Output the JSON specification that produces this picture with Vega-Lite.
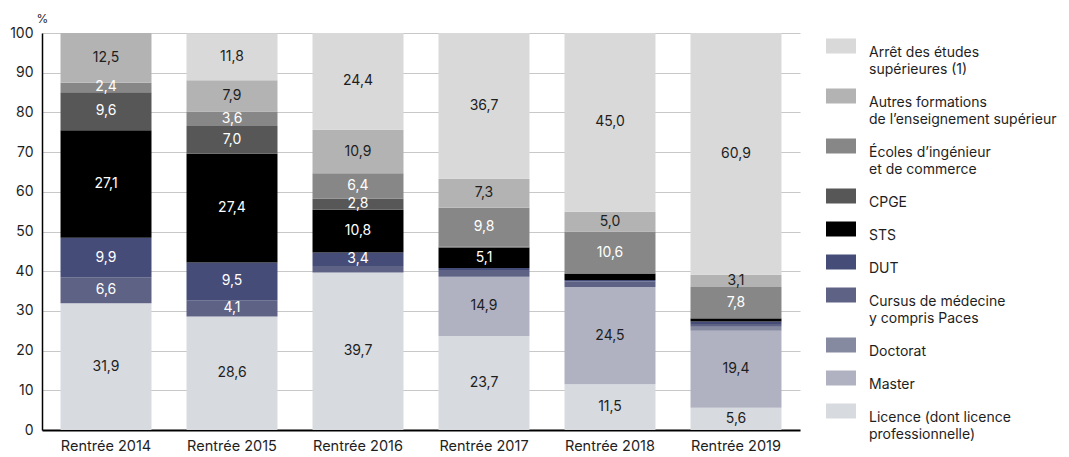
{
  "$schema": "https://vega.github.io/schema/vega-lite/v6.json",
  "width": 758,
  "height": 397,
  "autosize": {"type": "none"},
  "padding": {"left": 42, "top": 33, "right": 269, "bottom": 27},
  "background": "white",
  "config": {
    "locale": {"number": {"decimal": ",", "thousands": "\u00a0", "grouping": [3], "currency": ["", " €"]}},
    "font": "Inter",
    "view": {"stroke": null},
    "style": {"guide-label": {"lineHeight": 17}},
    "axis": {"labelFont": "Inter", "labelFontSize": 14, "labelColor": "#1e1e1e", "titleFont": "Inter"}
  },
  "data": {
    "values": [
      {"annee": "Rentrée 2014", "filiere": "Licence (dont licence professionnelle)", "part": 31.9},
      {"annee": "Rentrée 2014", "filiere": "Cursus de médecine y compris Paces", "part": 6.6},
      {"annee": "Rentrée 2014", "filiere": "DUT", "part": 9.9},
      {"annee": "Rentrée 2014", "filiere": "STS", "part": 27.1},
      {"annee": "Rentrée 2014", "filiere": "CPGE", "part": 9.6},
      {"annee": "Rentrée 2014", "filiere": "Écoles d’ingénieur et de commerce", "part": 2.4},
      {"annee": "Rentrée 2014", "filiere": "Autres formations de l’enseignement supérieur", "part": 12.5},

      {"annee": "Rentrée 2015", "filiere": "Licence (dont licence professionnelle)", "part": 28.6},
      {"annee": "Rentrée 2015", "filiere": "Cursus de médecine y compris Paces", "part": 4.1},
      {"annee": "Rentrée 2015", "filiere": "DUT", "part": 9.5},
      {"annee": "Rentrée 2015", "filiere": "STS", "part": 27.4},
      {"annee": "Rentrée 2015", "filiere": "CPGE", "part": 7.0},
      {"annee": "Rentrée 2015", "filiere": "Écoles d’ingénieur et de commerce", "part": 3.6},
      {"annee": "Rentrée 2015", "filiere": "Autres formations de l’enseignement supérieur", "part": 7.9},
      {"annee": "Rentrée 2015", "filiere": "Arrêt des études supérieures (1)", "part": 11.8},

      {"annee": "Rentrée 2016", "filiere": "Licence (dont licence professionnelle)", "part": 39.7},
      {"annee": "Rentrée 2016", "filiere": "Cursus de médecine y compris Paces", "part": 1.6},
      {"annee": "Rentrée 2016", "filiere": "DUT", "part": 3.4},
      {"annee": "Rentrée 2016", "filiere": "STS", "part": 10.8},
      {"annee": "Rentrée 2016", "filiere": "CPGE", "part": 2.8},
      {"annee": "Rentrée 2016", "filiere": "Écoles d’ingénieur et de commerce", "part": 6.4},
      {"annee": "Rentrée 2016", "filiere": "Autres formations de l’enseignement supérieur", "part": 10.9},
      {"annee": "Rentrée 2016", "filiere": "Arrêt des études supérieures (1)", "part": 24.4},

      {"annee": "Rentrée 2017", "filiere": "Licence (dont licence professionnelle)", "part": 23.7},
      {"annee": "Rentrée 2017", "filiere": "Master", "part": 14.9},
      {"annee": "Rentrée 2017", "filiere": "Cursus de médecine y compris Paces", "part": 1.7},
      {"annee": "Rentrée 2017", "filiere": "DUT", "part": 0.5},
      {"annee": "Rentrée 2017", "filiere": "STS", "part": 5.1},
      {"annee": "Rentrée 2017", "filiere": "CPGE", "part": 0.3},
      {"annee": "Rentrée 2017", "filiere": "Écoles d’ingénieur et de commerce", "part": 9.8},
      {"annee": "Rentrée 2017", "filiere": "Autres formations de l’enseignement supérieur", "part": 7.3},
      {"annee": "Rentrée 2017", "filiere": "Arrêt des études supérieures (1)", "part": 36.7},

      {"annee": "Rentrée 2018", "filiere": "Licence (dont licence professionnelle)", "part": 11.5},
      {"annee": "Rentrée 2018", "filiere": "Master", "part": 24.5},
      {"annee": "Rentrée 2018", "filiere": "Cursus de médecine y compris Paces", "part": 1.4},
      {"annee": "Rentrée 2018", "filiere": "DUT", "part": 0.4},
      {"annee": "Rentrée 2018", "filiere": "STS", "part": 1.6},
      {"annee": "Rentrée 2018", "filiere": "Écoles d’ingénieur et de commerce", "part": 10.6},
      {"annee": "Rentrée 2018", "filiere": "Autres formations de l’enseignement supérieur", "part": 5.0},
      {"annee": "Rentrée 2018", "filiere": "Arrêt des études supérieures (1)", "part": 45.0},

      {"annee": "Rentrée 2019", "filiere": "Licence (dont licence professionnelle)", "part": 5.6},
      {"annee": "Rentrée 2019", "filiere": "Master", "part": 19.4},
      {"annee": "Rentrée 2019", "filiere": "Doctorat", "part": 1.0},
      {"annee": "Rentrée 2019", "filiere": "Cursus de médecine y compris Paces", "part": 0.7},
      {"annee": "Rentrée 2019", "filiere": "DUT", "part": 0.6},
      {"annee": "Rentrée 2019", "filiere": "STS", "part": 0.8},
      {"annee": "Rentrée 2019", "filiere": "CPGE", "part": 0.1},
      {"annee": "Rentrée 2019", "filiere": "Écoles d’ingénieur et de commerce", "part": 7.8},
      {"annee": "Rentrée 2019", "filiere": "Autres formations de l’enseignement supérieur", "part": 3.1},
      {"annee": "Rentrée 2019", "filiere": "Arrêt des études supérieures (1)", "part": 60.9}
    ]
  },
  "transform": [
    {"calculate": "indexof(['Licence (dont licence professionnelle)', 'Master', 'Doctorat', 'Cursus de médecine y compris Paces', 'DUT', 'STS', 'CPGE', 'Écoles d’ingénieur et de commerce', 'Autres formations de l’enseignement supérieur', 'Arrêt des études supérieures (1)'], datum.filiere)", "as": "rang"}
  ],
  "encoding": {
    "x": {
      "field": "annee", "type": "nominal",
      "scale": {"paddingInner": 0.278, "paddingOuter": 0.147},
      "axis": {"title": null, "labelAngle": 0, "ticks": false, "labelPadding": 9, "labelFontSize": 14.5, "domainColor": "#000000", "domainWidth": 2, "grid": false}
    },
    "y": {
      "field": "part", "type": "quantitative", "stack": "zero",
      "scale": {"domain": [0, 100], "nice": false},
      "axis": {
        "title": "%", "titleAngle": 0, "titleAlign": "left", "titleBaseline": "middle", "titleX": -6, "titleY": -15,
        "titleFontSize": 12, "titleFontWeight": "normal", "titleColor": "#1e1e1e",
        "values": [0, 10, 20, 30, 40, 50, 60, 70, 80, 90, 100], "format": "d",
        "ticks": false, "labelPadding": 9, "domainColor": "#000000", "domainWidth": 1.5,
        "gridColor": "#c8c8c8", "gridWidth": 1
      }
    },
    "order": {"field": "rang", "type": "quantitative", "sort": "ascending"},
    "color": {
      "field": "filiere", "type": "nominal",
      "sort": ["Arrêt des études supérieures (1)", "Autres formations de l’enseignement supérieur", "Écoles d’ingénieur et de commerce", "CPGE", "STS", "DUT", "Cursus de médecine y compris Paces", "Doctorat", "Master", "Licence (dont licence professionnelle)"],
      "scale": {
        "domain": ["Arrêt des études supérieures (1)", "Autres formations de l’enseignement supérieur", "Écoles d’ingénieur et de commerce", "CPGE", "STS", "DUT", "Cursus de médecine y compris Paces", "Doctorat", "Master", "Licence (dont licence professionnelle)"],
        "range": ["#d9d9d9", "#b3b3b3", "#878787", "#575757", "#000000", "#454c78", "#5e6284", "#858aa1", "#b0b2c1", "#d7dadf"]
      },
      "legend": {
        "title": null, "orient": "none", "legendX": 784, "legendY": -2, "padding": 0,
        "symbolType": "M-1,-0.5H1V0.5H-1Z", "symbolSize": 900, "symbolStrokeWidth": 0, "symbolOpacity": 1,
        "labelFont": "Inter", "labelFontSize": 14, "labelColor": "#1e1e1e", "labelLimit": 260, "labelOffset": 13,
        "rowPadding": 4, "labelBaseline": "top",
        "labelExpr": "datum.label == 'Arrêt des études supérieures (1)' ? ['Arrêt des études', 'supérieures (1)'] : datum.label == 'Autres formations de l’enseignement supérieur' ? ['Autres formations', 'de l’enseignement supérieur'] : datum.label == 'Écoles d’ingénieur et de commerce' ? ['Écoles d’ingénieur', 'et de commerce'] : datum.label == 'Cursus de médecine y compris Paces' ? ['Cursus de médecine', 'y compris Paces'] : datum.label == 'Licence (dont licence professionnelle)' ? ['Licence (dont licence', 'professionnelle)'] : datum.label"
      }
    }
  },
  "layer": [
    {"mark": {"type": "bar"}},
    {
      "mark": {"type": "text", "fontSize": 14, "font": "Inter"},
      "encoding": {
        "y": {"field": "part", "type": "quantitative", "stack": "zero", "bandPosition": 0.5},
        "text": {"condition": {"test": "datum.part < 2", "value": ""}, "field": "part", "type": "quantitative", "format": ".1f"},
        "fill": {
          "condition": {"test": "indexof(['Écoles d’ingénieur et de commerce', 'CPGE', 'STS', 'DUT', 'Cursus de médecine y compris Paces'], datum.filiere) >= 0", "value": "#ffffff"},
          "value": "#1e1e1e"
        }
      }
    }
  ]
}
